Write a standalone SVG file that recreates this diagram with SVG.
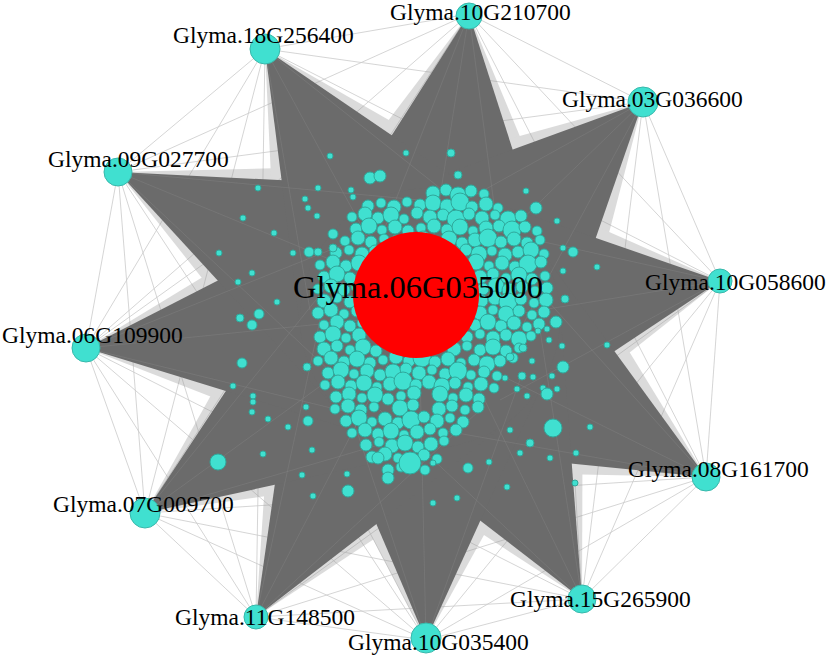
<svg xmlns="http://www.w3.org/2000/svg" width="827" height="655" viewBox="0 0 827 655">
<style>
.t{font-family:"Liberation Serif","Times New Roman",serif;font-size:23.5px;fill:#000}
.c{font-size:32.5px}
.n{fill:#40e0d0;stroke:#2fa89b;stroke-width:1}
.hub{fill:#40e0d0;stroke:#38b8ab;stroke-width:1}
.fan{fill:#6b6b6b}
.halo{fill:#999;opacity:0.35}
.web{stroke:#cacaca;stroke-width:0.8;fill:none}
.streak{stroke:#858585;stroke-width:0.7;fill:none;opacity:0.6}
</style>
<rect width="827" height="655" fill="#fff"/>
<g id="connectors">
<path class="web" d="M469 14L643 102M643 102L720 281M720 281L706 477M706 477L582 599M582 599L426 640M426 640L256 617M256 617L145 513M145 513L86 348M86 348L118 172M118 172L265 49M265 49L469 14M469 14L720 281M643 102L706 477M720 281L582 599M706 477L426 640M582 599L256 617M426 640L145 513M256 617L86 348M145 513L118 172M86 348L265 49M118 172L469 14M265 49L643 102M469 14L706 477M643 102L582 599M720 281L426 640M706 477L256 617M582 599L145 513M426 640L86 348M256 617L118 172M145 513L265 49M86 348L469 14M118 172L643 102M265 49L720 281M469 14L582 599M643 102L426 640M720 281L256 617M706 477L145 513M582 599L86 348M426 640L118 172M256 617L265 49M145 513L469 14M86 348L643 102M118 172L720 281M265 49L706 477M118 172L258 188M118 172L243 218M118 172L219 253M86 348L219 253M86 348L240 318M86 348L233 386M145 513L233 386M145 513L252 412M145 513L263 454M256 617L302 475M256 617L313 496M426 640L348 491M426 640L457 498M582 599L507 487M582 599L575 483M706 477L590 427M706 477L576 453M720 281L597 267M720 281L607 345M643 102L557 221M643 102L526 191M469 14L406 153M469 14L451 153M265 49L330 156M265 49L318 188"/>
<g class="halo">
<polygon points="469,14 294,245 580,281"/>
<polygon points="643,102 367,178 571,379"/>
<polygon points="720,281 469,170 505,451"/>
<polygon points="706,477 548,219 404,471"/>
<polygon points="582,599 583,296 328,433"/>
<polygon points="426,640 574,372 284,369"/>
<polygon points="256,617 533,434 278,287"/>
<polygon points="145,513 473,467 307,224"/>
<polygon points="86,348 394,468 369,176"/>
<polygon points="118,172 323,431 448,164"/>
<polygon points="265,49 279,348 525,198"/>
</g>
<g class="fan">
<polygon points="469,14 320,248 554,278"/>
<polygon points="643,102 385,196 553,361"/>
<polygon points="720,281 472,195 502,426"/>
<polygon points="706,477 535,242 417,448"/>
<polygon points="582,599 560,308 351,421"/>
<polygon points="426,640 548,372 310,369"/>
<polygon points="256,617 510,421 301,300"/>
<polygon points="145,513 458,445 322,246"/>
<polygon points="86,348 392,442 371,202"/>
<polygon points="118,172 334,407 437,188"/>
<polygon points="265,49 301,334 503,211"/>
<circle cx="430" cy="318" r="130"/>
</g>
<path class="streak" d="M469 14L380 240M469 14L430 260M469 14L500 250M643 102L430 220M643 102L480 260M643 102L520 330M720 281L490 230M720 281L480 320M720 281L500 400M706 477L520 270M706 477L470 360M706 477L440 430M582 599L540 330M582 599L470 370M582 599L380 410M426 640L520 380M426 640L420 370M426 640L340 380M256 617L480 410M256 617L390 360M256 617L320 320M145 513L430 430M145 513L370 350M145 513L340 270M86 348L380 420M86 348L360 320M86 348L380 230M118 172L350 390M118 172L380 280M118 172L420 200M265 49L310 310M265 49L380 260M265 49L480 220"/>
</g>
<g id="cluster" class="n">
<circle cx="433" cy="193" r="7"/><circle cx="446" cy="190" r="6"/><circle cx="458" cy="195" r="8"/><circle cx="471" cy="191" r="6"/><circle cx="484" cy="194" r="5"/>
<circle cx="368" cy="206" r="6"/><circle cx="381" cy="203" r="5"/><circle cx="394" cy="207" r="7"/><circle cx="407" cy="202" r="5"/><circle cx="420" cy="205" r="6"/><circle cx="433" cy="203" r="8"/><circle cx="447" cy="206" r="7"/><circle cx="460" cy="202" r="9"/><circle cx="472" cy="207" r="6"/><circle cx="486" cy="204" r="7"/><circle cx="498" cy="208" r="5"/>
<circle cx="352" cy="217" r="5"/><circle cx="365" cy="214" r="7"/><circle cx="378" cy="218" r="6"/><circle cx="391" cy="215" r="8"/><circle cx="404" cy="219" r="5"/><circle cx="417" cy="213" r="6"/><circle cx="430" cy="217" r="7"/><circle cx="443" cy="215" r="6"/><circle cx="456" cy="219" r="9"/><circle cx="469" cy="214" r="6"/><circle cx="482" cy="218" r="7"/><circle cx="495" cy="215" r="5"/><circle cx="508" cy="219" r="8"/><circle cx="521" cy="216" r="6"/>
<circle cx="356" cy="229" r="6"/><circle cx="369" cy="226" r="8"/><circle cx="382" cy="230" r="5"/><circle cx="395" cy="227" r="7"/><circle cx="408" cy="231" r="6"/><circle cx="421" cy="228" r="5"/><circle cx="434" cy="226" r="7"/><circle cx="447" cy="230" r="6"/><circle cx="460" cy="227" r="8"/><circle cx="473" cy="231" r="5"/><circle cx="486" cy="228" r="7"/><circle cx="499" cy="226" r="6"/><circle cx="512" cy="230" r="9"/><circle cx="525" cy="227" r="6"/><circle cx="537" cy="231" r="5"/>
<circle cx="345" cy="241" r="5"/><circle cx="358" cy="238" r="7"/><circle cx="371" cy="242" r="6"/><circle cx="384" cy="239" r="5"/><circle cx="397" cy="243" r="8"/><circle cx="410" cy="240" r="6"/><circle cx="423" cy="238" r="7"/><circle cx="436" cy="242" r="5"/><circle cx="449" cy="239" r="8"/><circle cx="462" cy="243" r="6"/><circle cx="475" cy="240" r="7"/><circle cx="488" cy="238" r="9"/><circle cx="501" cy="242" r="6"/><circle cx="514" cy="239" r="7"/><circle cx="527" cy="243" r="6"/><circle cx="540" cy="240" r="5"/>
<circle cx="336" cy="253" r="6"/><circle cx="349" cy="250" r="5"/><circle cx="362" cy="254" r="7"/><circle cx="375" cy="251" r="6"/><circle cx="453" cy="253" r="7"/><circle cx="466" cy="250" r="6"/><circle cx="479" cy="254" r="8"/><circle cx="492" cy="251" r="5"/><circle cx="505" cy="255" r="7"/><circle cx="518" cy="252" r="6"/><circle cx="531" cy="250" r="8"/><circle cx="544" cy="254" r="5"/>
<circle cx="320" cy="265" r="5"/><circle cx="333" cy="262" r="7"/><circle cx="346" cy="266" r="6"/><circle cx="359" cy="263" r="8"/><circle cx="463" cy="265" r="6"/><circle cx="476" cy="262" r="8"/><circle cx="489" cy="266" r="5"/><circle cx="502" cy="263" r="7"/><circle cx="515" cy="267" r="6"/><circle cx="528" cy="264" r="9"/><circle cx="541" cy="262" r="6"/>
<circle cx="324" cy="277" r="6"/><circle cx="337" cy="274" r="8"/><circle cx="350" cy="278" r="6"/><circle cx="480" cy="277" r="7"/><circle cx="493" cy="274" r="6"/><circle cx="506" cy="278" r="5"/><circle cx="519" cy="275" r="8"/><circle cx="532" cy="279" r="6"/><circle cx="545" cy="276" r="5"/>
<circle cx="318" cy="289" r="5"/><circle cx="331" cy="286" r="7"/><circle cx="344" cy="290" r="6"/><circle cx="356" cy="287" r="5"/><circle cx="483" cy="289" r="6"/><circle cx="496" cy="286" r="8"/><circle cx="509" cy="290" r="7"/><circle cx="522" cy="287" r="6"/><circle cx="535" cy="291" r="5"/><circle cx="547" cy="288" r="6"/>
<circle cx="324" cy="301" r="7"/><circle cx="337" cy="298" r="5"/><circle cx="350" cy="302" r="6"/><circle cx="482" cy="301" r="6"/><circle cx="495" cy="298" r="7"/><circle cx="508" cy="302" r="9"/><circle cx="521" cy="299" r="6"/><circle cx="534" cy="303" r="5"/><circle cx="546" cy="300" r="7"/>
<circle cx="318" cy="313" r="6"/><circle cx="331" cy="310" r="7"/><circle cx="344" cy="314" r="5"/><circle cx="357" cy="311" r="6"/><circle cx="480" cy="313" r="7"/><circle cx="493" cy="310" r="5"/><circle cx="506" cy="314" r="8"/><circle cx="519" cy="311" r="6"/><circle cx="532" cy="315" r="5"/><circle cx="544" cy="312" r="6"/>
<circle cx="324" cy="325" r="5"/><circle cx="337" cy="322" r="7"/><circle cx="350" cy="326" r="6"/><circle cx="362" cy="323" r="5"/><circle cx="475" cy="325" r="6"/><circle cx="488" cy="322" r="8"/><circle cx="501" cy="326" r="6"/><circle cx="514" cy="323" r="7"/><circle cx="527" cy="327" r="5"/><circle cx="539" cy="324" r="6"/>
<circle cx="320" cy="337" r="6"/><circle cx="333" cy="334" r="8"/><circle cx="346" cy="338" r="5"/><circle cx="359" cy="335" r="7"/><circle cx="467" cy="337" r="6"/><circle cx="480" cy="334" r="5"/><circle cx="493" cy="338" r="7"/><circle cx="506" cy="335" r="6"/><circle cx="519" cy="339" r="8"/><circle cx="531" cy="336" r="5"/>
<circle cx="324" cy="349" r="7"/><circle cx="337" cy="346" r="6"/><circle cx="350" cy="350" r="5"/><circle cx="363" cy="347" r="8"/><circle cx="376" cy="351" r="6"/><circle cx="454" cy="349" r="7"/><circle cx="467" cy="346" r="5"/><circle cx="480" cy="350" r="6"/><circle cx="493" cy="347" r="8"/><circle cx="506" cy="351" r="6"/><circle cx="519" cy="348" r="5"/>
<circle cx="318" cy="361" r="5"/><circle cx="331" cy="358" r="7"/><circle cx="344" cy="362" r="6"/><circle cx="357" cy="359" r="8"/><circle cx="370" cy="363" r="6"/><circle cx="383" cy="360" r="5"/><circle cx="396" cy="357" r="7"/><circle cx="409" cy="361" r="6"/><circle cx="422" cy="358" r="9"/><circle cx="435" cy="362" r="6"/><circle cx="448" cy="359" r="7"/><circle cx="461" cy="363" r="5"/><circle cx="474" cy="360" r="6"/><circle cx="487" cy="364" r="8"/><circle cx="500" cy="361" r="6"/><circle cx="513" cy="358" r="5"/>
<circle cx="328" cy="373" r="6"/><circle cx="341" cy="370" r="8"/><circle cx="354" cy="374" r="5"/><circle cx="367" cy="371" r="7"/><circle cx="380" cy="375" r="6"/><circle cx="393" cy="372" r="8"/><circle cx="406" cy="369" r="6"/><circle cx="419" cy="373" r="7"/><circle cx="432" cy="370" r="5"/><circle cx="445" cy="374" r="6"/><circle cx="458" cy="371" r="9"/><circle cx="471" cy="375" r="5"/><circle cx="484" cy="372" r="6"/><circle cx="497" cy="376" r="5"/>
<circle cx="325" cy="385" r="5"/><circle cx="338" cy="382" r="7"/><circle cx="351" cy="386" r="6"/><circle cx="364" cy="383" r="8"/><circle cx="377" cy="387" r="5"/><circle cx="390" cy="384" r="7"/><circle cx="403" cy="381" r="9"/><circle cx="416" cy="385" r="6"/><circle cx="429" cy="382" r="7"/><circle cx="442" cy="386" r="8"/><circle cx="455" cy="383" r="6"/><circle cx="468" cy="387" r="5"/><circle cx="481" cy="384" r="7"/><circle cx="494" cy="388" r="5"/>
<circle cx="336" cy="397" r="6"/><circle cx="349" cy="394" r="7"/><circle cx="362" cy="398" r="5"/><circle cx="375" cy="395" r="8"/><circle cx="388" cy="399" r="6"/><circle cx="401" cy="396" r="5"/><circle cx="414" cy="393" r="7"/><circle cx="440" cy="394" r="8"/><circle cx="453" cy="398" r="5"/><circle cx="466" cy="395" r="7"/><circle cx="479" cy="399" r="6"/>
<circle cx="335" cy="409" r="5"/><circle cx="348" cy="406" r="7"/><circle cx="361" cy="410" r="6"/><circle cx="374" cy="407" r="5"/><circle cx="400" cy="408" r="8"/><circle cx="413" cy="405" r="6"/><circle cx="439" cy="409" r="7"/><circle cx="452" cy="406" r="6"/><circle cx="465" cy="410" r="5"/><circle cx="478" cy="407" r="6"/>
<circle cx="346" cy="421" r="6"/><circle cx="359" cy="418" r="8"/><circle cx="372" cy="422" r="5"/><circle cx="385" cy="419" r="7"/><circle cx="398" cy="423" r="6"/><circle cx="411" cy="420" r="9"/><circle cx="424" cy="417" r="6"/><circle cx="437" cy="421" r="7"/><circle cx="450" cy="418" r="5"/><circle cx="463" cy="422" r="6"/>
<circle cx="352" cy="433" r="5"/><circle cx="365" cy="430" r="7"/><circle cx="378" cy="434" r="6"/><circle cx="391" cy="431" r="8"/><circle cx="404" cy="435" r="5"/><circle cx="417" cy="432" r="7"/><circle cx="430" cy="429" r="6"/><circle cx="443" cy="433" r="5"/><circle cx="456" cy="430" r="6"/>
<circle cx="366" cy="445" r="6"/><circle cx="379" cy="442" r="5"/><circle cx="392" cy="446" r="7"/><circle cx="405" cy="443" r="8"/><circle cx="418" cy="447" r="6"/><circle cx="431" cy="444" r="7"/><circle cx="444" cy="441" r="5"/>
<circle cx="372" cy="457" r="6"/><circle cx="385" cy="454" r="7"/><circle cx="398" cy="458" r="5"/><circle cx="424" cy="455" r="6"/><circle cx="437" cy="459" r="5"/>
<circle cx="388" cy="470" r="6"/><circle cx="401" cy="467" r="5"/><circle cx="425" cy="470" r="5"/>
<circle cx="330" cy="156" r="3"/><circle cx="406" cy="153" r="3"/><circle cx="451" cy="153" r="4"/><circle cx="458" cy="175" r="4"/><circle cx="370" cy="178" r="6"/><circle cx="380" cy="176" r="6"/><circle cx="351" cy="190" r="3"/><circle cx="353" cy="197" r="3"/><circle cx="318" cy="188" r="3"/><circle cx="258" cy="188" r="3"/><circle cx="305" cy="199" r="3"/><circle cx="526" cy="191" r="3"/><circle cx="536" cy="208" r="6"/><circle cx="557" cy="221" r="3"/><circle cx="243" cy="218" r="3"/><circle cx="308" cy="208" r="3"/><circle cx="317" cy="216" r="3"/><circle cx="274" cy="233" r="3"/><circle cx="333" cy="234" r="5"/><circle cx="219" cy="253" r="3"/><circle cx="293" cy="253" r="3"/><circle cx="309" cy="252" r="5"/><circle cx="318" cy="252" r="4"/><circle cx="333" cy="248" r="4"/><circle cx="573" cy="252" r="5"/><circle cx="563" cy="248" r="3"/><circle cx="597" cy="267" r="3"/><circle cx="252" cy="273" r="3"/><circle cx="238" cy="282" r="3"/><circle cx="563" cy="271" r="3"/><circle cx="565" cy="299" r="4"/><circle cx="277" cy="302" r="3"/><circle cx="240" cy="318" r="4"/><circle cx="259" cy="314" r="5"/><circle cx="252" cy="325" r="5"/><circle cx="556" cy="322" r="6"/><circle cx="547" cy="329" r="3"/><circle cx="538" cy="331" r="3"/><circle cx="549" cy="340" r="3"/><circle cx="562" cy="346" r="3"/><circle cx="607" cy="345" r="3"/><circle cx="242" cy="363" r="5"/><circle cx="307" cy="367" r="4"/><circle cx="233" cy="386" r="3"/><circle cx="253" cy="396" r="3"/><circle cx="253" cy="402" r="3"/><circle cx="252" cy="412" r="3"/><circle cx="268" cy="419" r="3"/><circle cx="288" cy="427" r="3"/><circle cx="306" cy="407" r="3"/><circle cx="308" cy="421" r="5"/><circle cx="523" cy="348" r="4"/><circle cx="510" cy="357" r="4"/><circle cx="532" cy="361" r="3"/><circle cx="522" cy="376" r="4"/><circle cx="533" cy="377" r="3"/><circle cx="563" cy="367" r="6"/><circle cx="552" cy="376" r="3"/><circle cx="505" cy="378" r="3"/><circle cx="517" cy="389" r="3"/><circle cx="527" cy="396" r="3"/><circle cx="543" cy="388" r="3"/><circle cx="547" cy="394" r="6"/><circle cx="557" cy="389" r="3"/><circle cx="553" cy="428" r="9"/><circle cx="590" cy="427" r="3"/><circle cx="510" cy="430" r="3"/><circle cx="530" cy="443" r="4"/><circle cx="576" cy="453" r="3"/><circle cx="520" cy="453" r="3"/><circle cx="550" cy="458" r="3"/><circle cx="575" cy="483" r="3"/><circle cx="507" cy="487" r="3"/><circle cx="489" cy="462" r="3"/><circle cx="468" cy="468" r="5"/><circle cx="457" cy="498" r="3"/><circle cx="433" cy="503" r="3"/><circle cx="433" cy="463" r="3"/><circle cx="410" cy="463" r="11"/><circle cx="388" cy="478" r="6"/><circle cx="378" cy="458" r="6"/><circle cx="348" cy="491" r="6"/><circle cx="347" cy="474" r="3"/><circle cx="312" cy="450" r="3"/><circle cx="302" cy="475" r="3"/><circle cx="313" cy="496" r="3"/><circle cx="263" cy="454" r="3"/><circle cx="218" cy="462" r="8"/>
</g>
<g id="n-06G035000"><circle cx="416" cy="295" r="63" fill="#ff0000"/><text class="t c" x="418" y="298" text-anchor="middle">Glyma.06G035000</text></g>
<g id="n-10G210700"><circle class="hub" cx="469" cy="16" r="13"/><text class="t" x="390" y="20">Glyma.10G210700</text></g>
<g id="n-03G036600"><circle class="hub" cx="643" cy="102" r="15"/><text class="t" x="562" y="107">Glyma.03G036600</text></g>
<g id="n-10G058600"><circle class="hub" cx="720" cy="281" r="12"/><text class="t" x="645" y="290">Glyma.10G058600</text></g>
<g id="n-08G161700"><circle class="hub" cx="706" cy="477" r="14"/><text class="t" x="628" y="477">Glyma.08G161700</text></g>
<g id="n-15G265900"><circle class="hub" cx="582" cy="599" r="14"/><text class="t" x="510" y="607">Glyma.15G265900</text></g>
<g id="n-10G035400"><circle class="hub" cx="426" cy="638" r="15"/><text class="t" x="348" y="650">Glyma.10G035400</text></g>
<g id="n-11G148500"><circle class="hub" cx="256" cy="617" r="12"/><text class="t" x="175" y="625">Glyma.11G148500</text></g>
<g id="n-07G009700"><circle class="hub" cx="145" cy="513" r="15"/><text class="t" x="53" y="512">Glyma.07G009700</text></g>
<g id="n-06G109900"><circle class="hub" cx="86" cy="348" r="14"/><text class="t" x="2" y="343">Glyma.06G109900</text></g>
<g id="n-09G027700"><circle class="hub" cx="118" cy="172" r="14"/><text class="t" x="48" y="167">Glyma.09G027700</text></g>
<g id="n-18G256400"><circle class="hub" cx="265" cy="49" r="15"/><text class="t" x="173" y="43">Glyma.18G256400</text></g>
</svg>
